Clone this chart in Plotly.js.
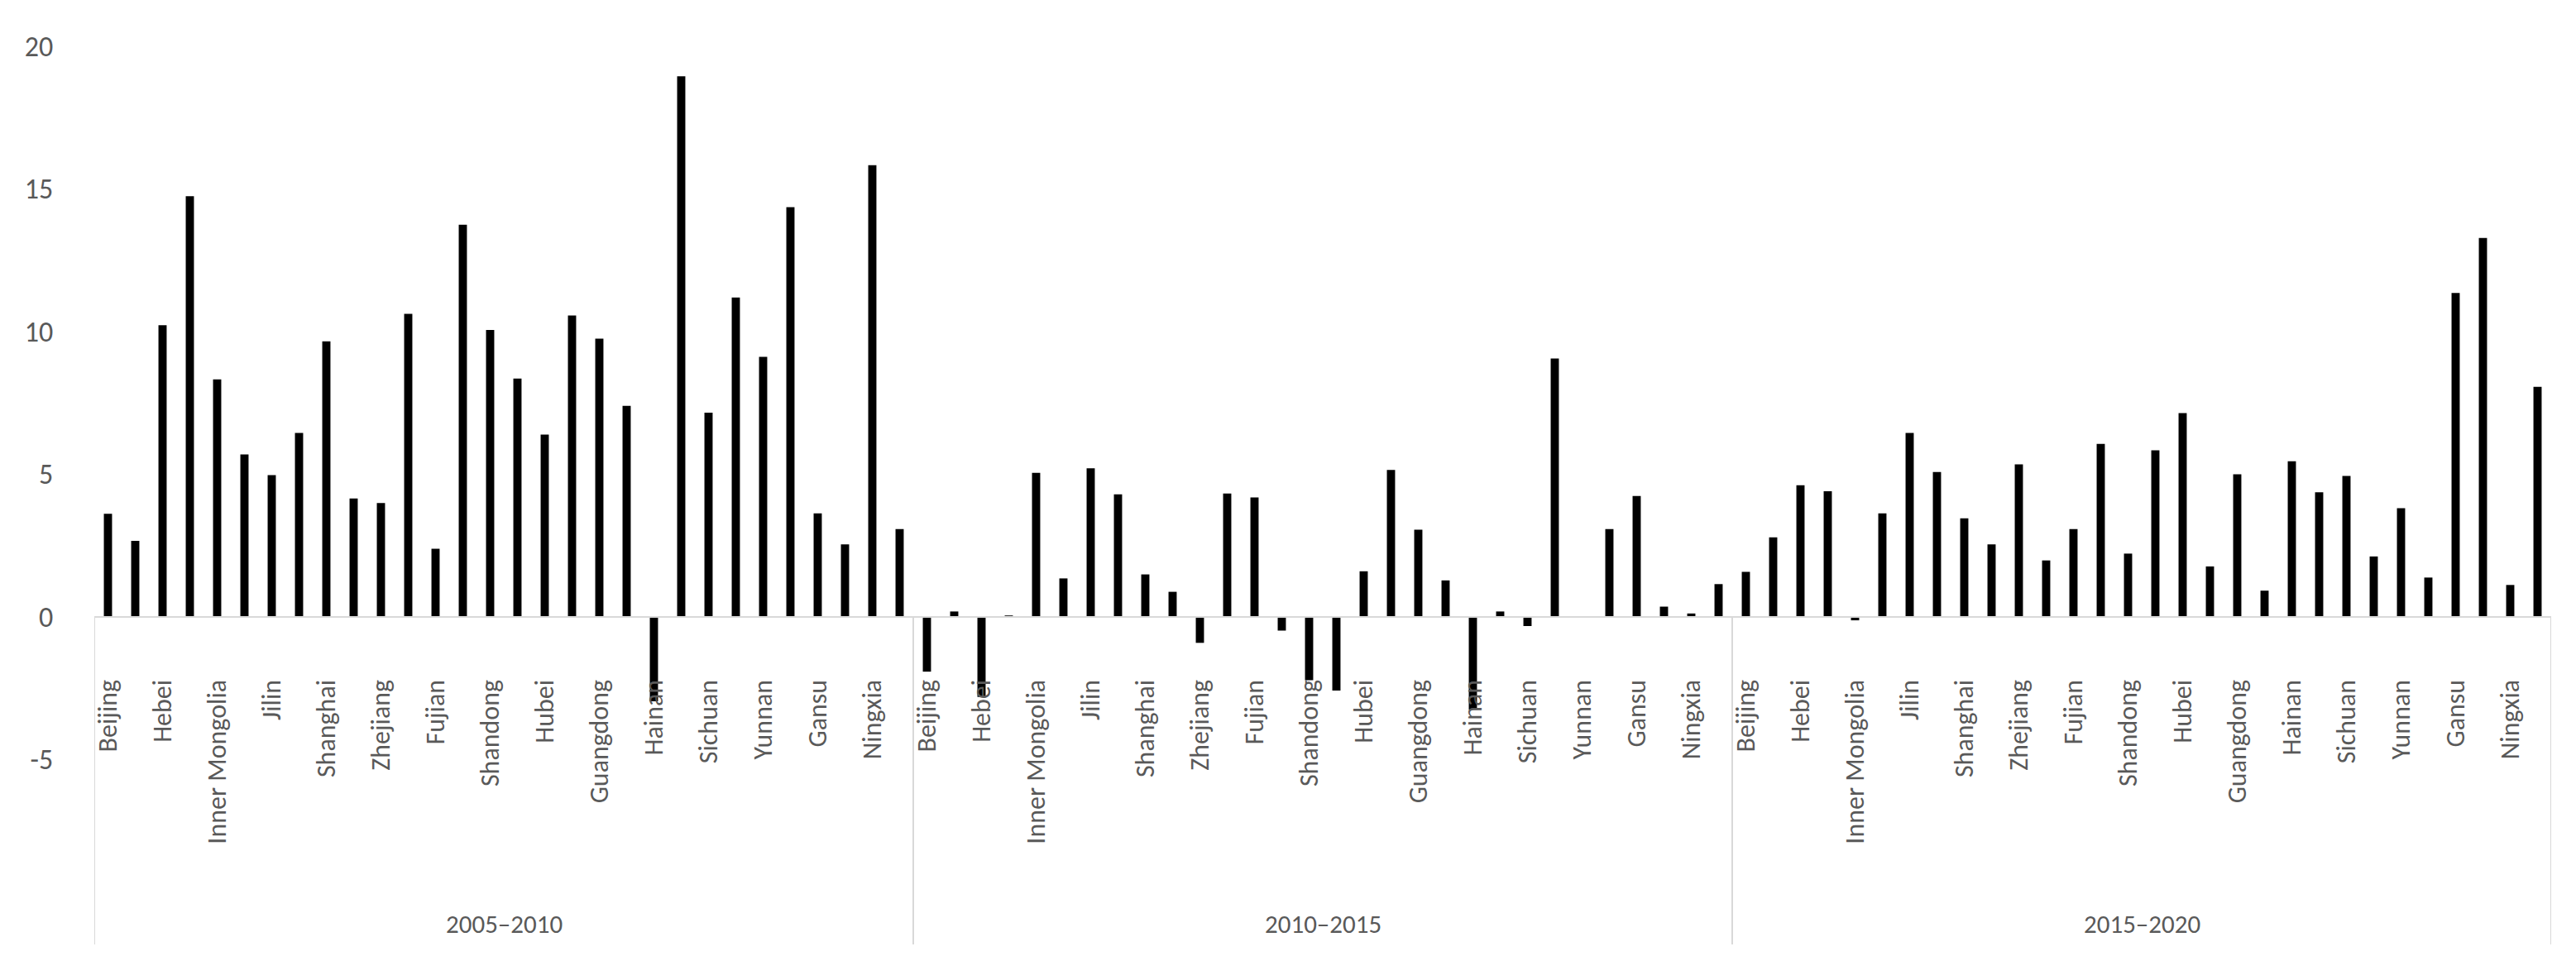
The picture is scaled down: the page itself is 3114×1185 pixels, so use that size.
<!DOCTYPE html>
<html>
<head>
<meta charset="utf-8">
<script src="https://cdn.plot.ly/plotly-3.0.1.min.js"></script>
<style>
  html, body { margin: 0; padding: 0; background: #ffffff; }
  #chart { width: 3114px; height: 1185px; }
</style>
</head>
<body>
<div id="chart"></div>
<script>
// ---------------- DATA ----------------
var provinces = ['Beijing','Tianjin','Hebei','Shanxi','Inner Mongolia','Liaoning','Jilin','Heilongjiang',
  'Shanghai','Jiangsu','Zhejiang','Anhui','Fujian','Jiangxi','Shandong','Henan','Hubei','Hunan',
  'Guangdong','Guangxi','Hainan','Chongqing','Sichuan','Guizhou','Yunnan','Shaanxi','Gansu',
  'Qinghai','Ningxia','Xinjiang'];

var periods = ['2005–2010', '2010–2015', '2015–2020'];

var v2005_2010 = [3.61, 2.66, 10.22, 14.74, 8.32, 5.69, 4.96, 6.44, 9.65, 4.14, 3.98, 10.62, 2.38, 13.74, 10.05,
  8.35, 6.38, 10.56, 9.75, 7.39, -2.97, 18.95, 7.15, 11.19, 9.11, 14.36, 3.62, 2.53, 15.83, 3.07];

var v2010_2015 = [-1.93, 0.18, -2.82, 0.04, 5.04, 1.34, 5.20, 4.29, 1.48, 0.87, -0.92, 4.32, 4.18, -0.49, -2.23,
  -2.59, 1.59, 5.14, 3.05, 1.27, -3.26, 0.18, -0.33, 9.05, -0.03, 3.07, 4.23, 0.35, 0.11, 1.14];

var v2015_2020 = [1.57, 2.78, 4.61, 4.40, -0.13, 3.62, 6.44, 5.07, 3.45, 2.53, 5.34, 1.97, 3.07, 6.06, 2.21,
  5.83, 7.14, 1.76, 4.99, 0.91, 5.45, 4.36, 4.93, 2.11, 3.80, 1.37, 11.35, 13.28, 1.11, 8.06];

var yTickVals = [-5, 0, 5, 10, 15, 20];
var yTickText = ['-5', '0', '5', '10', '15', '20'];

// ---------------- BUILD ----------------
var seriesByPeriod = [v2005_2010, v2010_2015, v2015_2020];
var n = provinces.length;
var xs = [], ys = [], hover = [];
var tickVals = [], tickText = [];
seriesByPeriod.forEach(function (vals, g) {
  vals.forEach(function (v, i) {
    xs.push(g * n + i);
    ys.push(v);
    hover.push(periods[g] + ' ' + provinces[i]);
    if (i % 2 === 0) { tickVals.push(g * n + i); tickText.push(provinces[i]); }
  });
});

var FONT = 'Carlito, Calibri, Lato, sans-serif';
var GREY = '#595959';
var LINE = '#d9d9d9';

var H = 1185, mT = 56, mB = 267;
var plotH = H - mT - mB;
var yMin = -5, yMax = 20;
var zeroFrac = (0 - yMin) / (yMax - yMin);
function pxToPaper(py) { return (H - mB - py) / plotH; }

var shapes = [];
for (var g = 0; g <= periods.length; g++) {
  shapes.push({
    type: 'line', xref: 'x', yref: 'paper',
    x0: g * n - 0.5, x1: g * n - 0.5,
    y0: zeroFrac, y1: pxToPaper(1142),
    line: { color: LINE, width: 2 }
  });
}

var annotations = periods.map(function (p, g) {
  return {
    text: p, xref: 'x', yref: 'paper',
    x: g * n + (n - 1) / 2, y: pxToPaper(1117),
    xanchor: 'center', yanchor: 'middle', showarrow: false,
    font: { family: FONT, size: 31, color: GREY }
  };
});

var trace = {
  type: 'bar',
  x: xs, y: ys, hovertext: hover, hoverinfo: 'text+y',
  textposition: 'none',
  width: 0.3,
  marker: { color: '#000000', line: { width: 0 } },
  showlegend: false
};

var layout = {
  width: 3114, height: H,
  margin: { l: 114, r: 30, t: mT, b: mB, pad: 0 },
  paper_bgcolor: '#ffffff', plot_bgcolor: '#ffffff',
  font: { family: FONT, color: GREY },
  showlegend: false,
  xaxis: {
    type: 'linear', range: [-0.5, periods.length * n - 0.5],
    anchor: 'free', position: zeroFrac,
    showline: true, linecolor: LINE, linewidth: 2.5,
    showgrid: false, zeroline: false,
    tickmode: 'array', tickvals: tickVals, ticktext: tickText,
    tickangle: -90, ticks: 'outside', ticklen: 62, tickcolor: 'rgba(0,0,0,0)',
    tickfont: { family: FONT, size: 32, color: GREY },
    automargin: false, fixedrange: true
  },
  yaxis: {
    range: [yMin, yMax],
    tickmode: 'array', tickvals: yTickVals, ticktext: yTickText,
    showline: false, showgrid: false, zeroline: false,
    ticks: 'outside', ticklen: 42, tickcolor: 'rgba(0,0,0,0)',
    tickfont: { family: FONT, size: 34, color: GREY },
    automargin: false, fixedrange: true
  },
  shapes: shapes,
  annotations: annotations
};

Plotly.newPlot('chart', [trace], layout, { staticPlot: true, displayModeBar: false });
</script>
</body>
</html>
